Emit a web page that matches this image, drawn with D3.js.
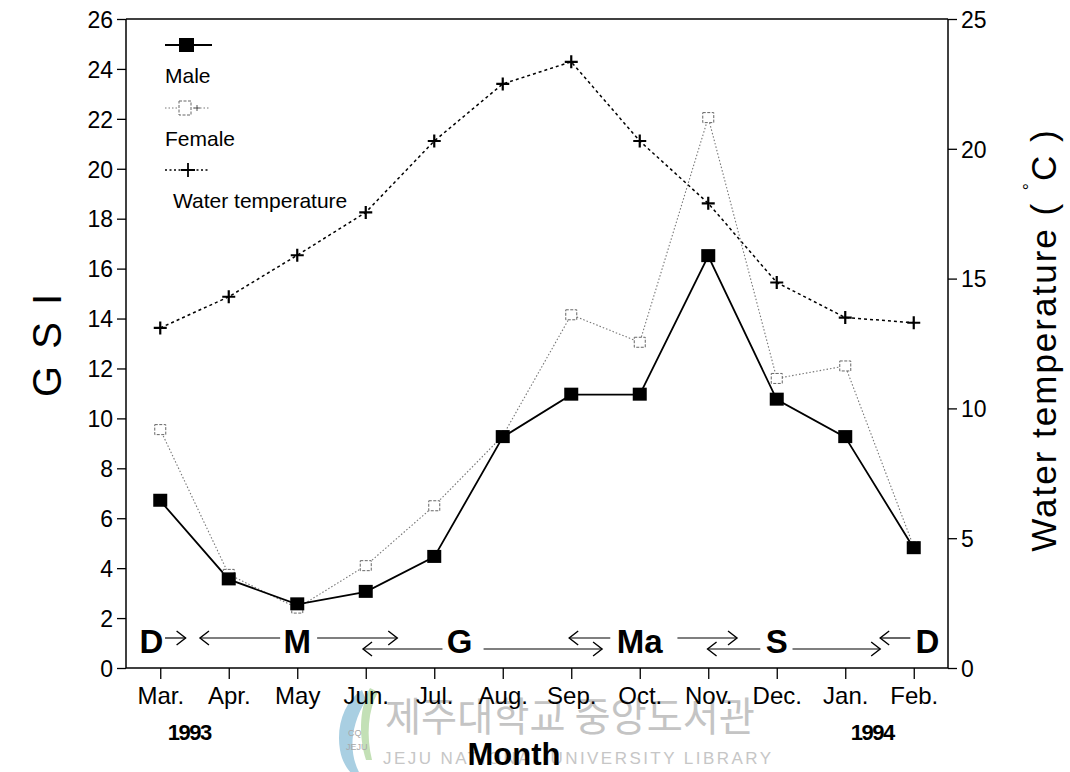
<!DOCTYPE html>
<html>
<head>
<meta charset="utf-8">
<script src="https://cdn.jsdelivr.net/npm/d3@7/dist/d3.min.js"></script>
<style>
  html, body { margin: 0; padding: 0; background: #fff; }
  svg { display: block; font-family: "Liberation Sans", Arial, sans-serif; }
</style>
</head>
<body>
<svg id="chart" width="1070" height="772"></svg>
<script>
// Monthly gonadosomatic index and water temperature, Mar. 1993 - Feb. 1994
const months = ["Mar.", "Apr.", "May", "Jun.", "Jul.", "Aug.", "Sep.", "Oct.", "Nov.", "Dec.", "Jan.", "Feb."];
const maleGSI = [6.7, 3.55, 2.55, 3.05, 4.45, 9.25, 10.95, 10.95, 16.5, 10.75, 9.25, 4.8];
const femaleGSI = [9.55, 3.75, 2.4, 4.1, 6.5, 9.3, 14.15, 13.05, 22.05, 11.6, 12.1, 4.85];
const waterTemp = [13.1, 14.3, 15.9, 17.55, 20.3, 22.5, 23.35, 20.3, 17.9, 14.85, 13.5, 13.3];
const gsiTicks = [0, 2, 4, 6, 8, 10, 12, 14, 16, 18, 20, 22, 24, 26];
const tempTicks = [0, 5, 10, 15, 20, 25];

// Maturity stages along the bottom band (position in month index units)
const stageLabels = [
  { text: "D", at: -0.13 },
  { text: "M", at: 2.0 },
  { text: "G", at: 4.37 },
  { text: "Ma", at: 7.0 },
  { text: "S", at: 9.0 },
  { text: "D", at: 11.2 }
];
// Stage transition arrows: from, to (month index), row (0 upper, 1 lower), head side
const stageArrows = [
  { from: 0.07, to: 0.37, row: 0, head: "end" },
  { from: 0.58, to: 1.75, row: 0, head: "start" },
  { from: 2.29, to: 3.46, row: 0, head: "end" },
  { from: 2.96, to: 4.12, row: 1, head: "start" },
  { from: 4.72, to: 6.45, row: 1, head: "end" },
  { from: 5.97, to: 6.57, row: 0, head: "start" },
  { from: 7.55, to: 8.42, row: 0, head: "end" },
  { from: 7.99, to: 8.76, row: 1, head: "start" },
  { from: 9.23, to: 10.51, row: 1, head: "end" },
  { from: 10.51, to: 10.95, row: 0, head: "start" }
];

const svg = d3.select("#chart");
const plot = { left: 126, right: 948, top: 19, bottom: 668 };

const x = d3.scalePoint().domain(months).range([plot.left, plot.right]).padding(0.5);
const xi = d3.scaleLinear().domain([0, months.length - 1]).range([x(months[0]), x(months[months.length - 1])]);
const yL = d3.scaleLinear().domain([0, 26]).range([plot.bottom, plot.top]);
const yR = d3.scaleLinear().domain([0, 25]).range([plot.bottom, plot.top]);

// Watermark of the library
const wm = svg.append("g").attr("class", "watermark");
const logo = wm.append("g").attr("transform", "translate(332,688)");
logo.append("path")
  .attr("d", "M30,2 C12,14 4,38 8,62 C10,74 16,82 20,86 L28,86 C18,68 16,42 34,12 Z")
  .attr("fill", "#a9cfe2");
logo.append("path")
  .attr("d", "M38,0 C28,18 26,46 34,72 L40,72 C34,48 36,22 46,4 Z")
  .attr("fill", "#c3e0b6");
logo.append("text").attr("x", 16).attr("y", 48).attr("font-size", 9).attr("fill", "#a8a8a8").text("CQ");
logo.append("text").attr("x", 14).attr("y", 62).attr("font-size", 9).attr("fill", "#a8a8a8").text("JEJU");
wm.append("text")
  .attr("x", 385).attr("y", 731)
  .attr("font-family", "'Noto Sans CJK KR', sans-serif")
  .attr("font-size", 40)
  .attr("textLength", 370).attr("lengthAdjust", "spacingAndGlyphs")
  .attr("fill", "#c4c4c4")
  .text("제주대학교 중앙도서관");
wm.append("text")
  .attr("x", 383).attr("y", 764)
  .attr("font-size", 17)
  .attr("textLength", 388).attr("lengthAdjust", "spacing")
  .attr("fill", "#c6c6c6")
  .text("JEJU NATIONAL UNIVERSITY LIBRARY");

// Frame
svg.append("line").attr("x1", plot.left).attr("x2", plot.right).attr("y1", plot.top).attr("y2", plot.top)
  .attr("stroke", "#000").attr("stroke-width", 1.5);

// Axes
const axisL = svg.append("g").attr("transform", `translate(${plot.left},0)`)
  .call(d3.axisLeft(yL).tickValues(gsiTicks).tickSize(9).tickSizeOuter(0).tickPadding(4));
const axisR = svg.append("g").attr("transform", `translate(${plot.right},0)`)
  .call(d3.axisRight(yR).tickValues(tempTicks).tickSize(9).tickSizeOuter(0).tickPadding(4));
const axisB = svg.append("g").attr("transform", `translate(0,${plot.bottom})`)
  .call(d3.axisBottom(x).tickSize(11).tickSizeOuter(0).tickPadding(8));
[axisL, axisR, axisB].forEach(g => {
  g.select(".domain").attr("stroke", "#000").attr("stroke-width", 1.5);
  g.selectAll(".tick line").attr("stroke", "#000").attr("stroke-width", 1.3);
  g.selectAll("text").attr("fill", "#000").attr("font-family", "'Liberation Sans', Arial, sans-serif");
});
axisL.selectAll("text").attr("font-size", 23).attr("dy", "0.36em");
axisR.selectAll("text").attr("font-size", 23).attr("dy", "0.36em");
axisB.selectAll("text").attr("font-size", 24).attr("dy", "0.72em");
// full lines for the vertical axes
axisL.select(".domain").attr("d", `M0,${plot.top}V${plot.bottom}`);
axisR.select(".domain").attr("d", `M0,${plot.top}V${plot.bottom}`);
axisB.select(".domain").attr("d", `M${plot.left},0H${plot.right}`);

// Year labels and axis titles
svg.append("text").attr("x", x("Mar.") + 29).attr("y", 740).attr("text-anchor", "middle")
  .attr("font-size", 22).attr("font-weight", "bold").attr("letter-spacing", -1.5).text("1993");
svg.append("text").attr("x", x("Jan.") + 27).attr("y", 740).attr("text-anchor", "middle")
  .attr("font-size", 22).attr("font-weight", "bold").attr("letter-spacing", -1.5).text("1994");
svg.append("text").attr("x", 514).attr("y", 765).attr("text-anchor", "middle")
  .attr("font-size", 31).attr("font-weight", "bold").text("Month");
svg.append("text").attr("transform", "translate(61,344) rotate(-90)").attr("text-anchor", "middle")
  .attr("font-size", 40).attr("letter-spacing", 3).text("G S I");
const rt = svg.append("text").attr("transform", "translate(1056,340) rotate(-90)").attr("text-anchor", "middle")
  .attr("font-size", 35).attr("letter-spacing", 2);
rt.append("tspan").text("Water temperature ( ");
rt.append("tspan").attr("font-size", 18).attr("dy", -20).text("°");
rt.append("tspan").attr("dy", 20).text("C )");

// Series lines
const line = ys => d3.line().x((d, i) => x(months[i])).y(d => ys(d));

svg.append("path").datum(waterTemp).attr("d", line(yR))
  .attr("fill", "none").attr("stroke", "#000").attr("stroke-width", 1.5).attr("stroke-dasharray", "3,3");
svg.append("path").datum(femaleGSI).attr("d", line(yL))
  .attr("fill", "none").attr("stroke", "#777").attr("stroke-width", 1.1).attr("stroke-dasharray", "1.5,2");
svg.append("path").datum(maleGSI).attr("d", line(yL))
  .attr("fill", "none").attr("stroke", "#000").attr("stroke-width", 1.8);

// Markers
const plusPath = s => `M${-s},0H${s}M0,${-s}V${s}`;
svg.append("g").selectAll("path").data(waterTemp).join("path")
  .attr("transform", (d, i) => `translate(${x(months[i])},${yR(d)})`)
  .attr("d", plusPath(6.5)).attr("stroke", "#000").attr("stroke-width", 2.2);
svg.append("g").selectAll("rect").data(femaleGSI).join("rect")
  .attr("x", (d, i) => x(months[i]) - 5.5).attr("y", d => yL(d) - 5)
  .attr("width", 11).attr("height", 10)
  .attr("fill", "#fff").attr("stroke", "#666").attr("stroke-width", 1).attr("stroke-dasharray", "3,1.5");
svg.append("g").selectAll("rect").data(maleGSI).join("rect")
  .attr("x", (d, i) => x(months[i]) - 7).attr("y", d => yL(d) - 7)
  .attr("width", 14).attr("height", 13).attr("fill", "#000");

// Legend
const lg = svg.append("g").attr("font-size", 21);
lg.append("line").attr("x1", 165).attr("x2", 212).attr("y1", 45).attr("y2", 45).attr("stroke", "#000").attr("stroke-width", 1.8);
lg.append("rect").attr("x", 179).attr("y", 38).attr("width", 15).attr("height", 14).attr("fill", "#000");
lg.append("text").attr("x", 165).attr("y", 83).text("Male");
lg.append("line").attr("x1", 165).attr("x2", 210).attr("y1", 108).attr("y2", 108)
  .attr("stroke", "#777").attr("stroke-width", 1).attr("stroke-dasharray", "1.5,2");
lg.append("rect").attr("x", 179).attr("y", 101).attr("width", 12).attr("height", 14)
  .attr("fill", "#fff").attr("stroke", "#666").attr("stroke-dasharray", "3,1.5");
lg.append("path").attr("transform", "translate(197,108)").attr("d", plusPath(3)).attr("stroke", "#555");
lg.append("text").attr("x", 165).attr("y", 146).text("Female");
lg.append("line").attr("x1", 165).attr("x2", 210).attr("y1", 170).attr("y2", 170)
  .attr("stroke", "#000").attr("stroke-width", 1.3).attr("stroke-dasharray", "2,2.5");
lg.append("path").attr("transform", "translate(188,170)").attr("d", plusPath(7)).attr("stroke", "#000").attr("stroke-width", 1.8);
lg.append("text").attr("x", 173).attr("y", 208).text("Water temperature");

// Maturity stage band
const rowY = [638, 649];
const band = svg.append("g");
band.selectAll("text").data(stageLabels).join("text")
  .attr("x", d => xi(d.at)).attr("y", 653).attr("text-anchor", "middle")
  .attr("font-size", 33).attr("font-weight", "bold").text(d => d.text);
band.selectAll("g.arrow").data(stageArrows).join("g").attr("class", "arrow").each(function (d) {
  const g = d3.select(this);
  const x1 = xi(d.from), x2 = xi(d.to), y = rowY[d.row];
  g.append("line").attr("x1", x1).attr("x2", x2).attr("y1", y).attr("y2", y)
    .attr("stroke", "#000").attr("stroke-width", 1.2);
  const hx = d.head === "end" ? x2 : x1;
  const dir = d.head === "end" ? -1 : 1;
  g.append("path").attr("d", `M${hx + dir * 9},${y - 7}L${hx},${y}L${hx + dir * 9},${y + 7}`)
    .attr("fill", "none").attr("stroke", "#000").attr("stroke-width", 1.4);
});
</script>
</body>
</html>
